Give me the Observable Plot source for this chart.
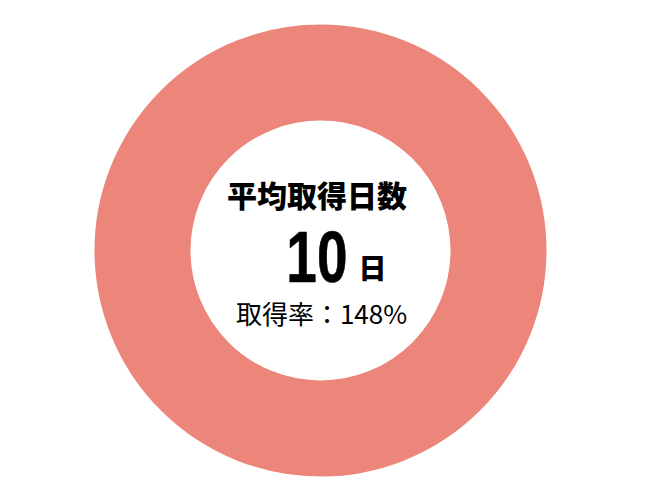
<!DOCTYPE html>
<html>
<head>
<meta charset="utf-8">
<script src="https://cdn.jsdelivr.net/npm/d3@7/dist/d3.min.js"></script>
<script src="https://cdn.jsdelivr.net/npm/@observablehq/plot@0.6/dist/plot.umd.min.js"></script>
<style>
  html, body { margin: 0; padding: 0; background: #fff; }
</style>
</head>
<body>
<div id="chart"></div>
<script>
// ---- data ----
const titles = ["平均取得日数"];
const avgDays = [10];
const dayUnits = ["日"];
const rateLabels = ["取得率"];
const rates = [148]; // percent

try {
const rate = rates[0];
const ringData = [{label: rateLabels[0], value: rate, share: Math.min(rate, 100) / 100, cx: 0, cy: 0}];
const centerData = [{title: titles[0], days: avgDays[0], unit: dayUnits[0], rateText: `${rateLabels[0]}：${rate}%`, cx: 0, cy: 0}];

const outerR = 226, innerR = 130;
const ringColor = "#ec857a";
const jp = "'Noto Sans CJK JP', 'Noto Sans', sans-serif";

const chart = Plot.plot({
  width: 650,
  height: 500,
  marginLeft: 0,
  marginRight: 10,
  marginTop: 0,
  marginBottom: 0,
  x: {domain: [-1, 1], axis: null},
  y: {domain: [-1, 1], axis: null},
  style: {background: "#fff"},
  marks: [
    Plot.dot(ringData, {
      x: "cx", y: "cy",
      r: (outerR + innerR) / 2,
      stroke: ringColor,
      strokeWidth: outerR - innerR,
      fill: "none"
    }),
    Plot.text(centerData, {
      x: "cx", y: "cy",
      text: "title", fontSize: 30, fontWeight: 900, fontFamily: jp,
      fill: "#000", dx: -3.5, dy: -53
    }),
    Plot.text(centerData, {
      x: "cx", y: "cy",
      text: d => String(d.days), fontSize: 73, fontWeight: "bold",
      fontFamily: "'Liberation Sans', Arial, sans-serif",
      fill: "#000", textAnchor: "end", dx: 27, dy: 8,
      stroke: "#000", strokeWidth: 0.6
    }),
    Plot.text(centerData, {
      x: "cx", y: "cy",
      text: "unit", fontSize: 28, fontWeight: 900, fontFamily: jp,
      fill: "#000", textAnchor: "start", dx: 38, dy: 20
    }),
    Plot.text(centerData, {
      x: "cx", y: "cy",
      text: "rateText", fontSize: 26, fontWeight: "normal", fontFamily: jp,
      fill: "#000", dx: 1, dy: 65
    })
  ]
});
// condense the big number horizontally (about its right-hand anchor) like the reference's narrow bold face
d3.select(chart).selectAll("text").filter(function () {
  return this.textContent === String(avgDays[0]);
}).each(function () {
  const t = this.getAttribute("transform") || "";
  this.setAttribute("transform", (t + " scale(0.753,1)").trim());
});
document.getElementById("chart").appendChild(chart);
} catch (e) {
  document.body.insertAdjacentHTML("beforeend", "<pre>" + e + "\n" + (typeof d3) + " " + (typeof Plot) + "</pre>");
}
</script>
</body>
</html>
